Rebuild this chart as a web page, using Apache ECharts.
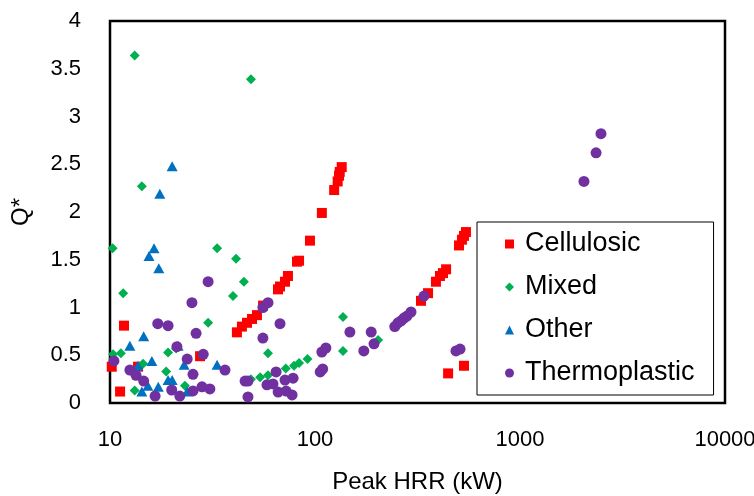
<!DOCTYPE html>
<html>
<head>
<meta charset="utf-8">
<script src="https://cdn.jsdelivr.net/npm/echarts@6/dist/echarts.min.js"></script>
<style>html,body{margin:0;padding:0;background:#fff;}#c{width:754px;height:496px;}</style>
</head>
<body>
<div id="c"></div>
<script>
const seriesNames = ['Cellulosic', 'Mixed', 'Other', 'Thermoplastic'];
const xTicks = [10, 100, 1000, 10000];
const yTicks = [0, 0.5, 1, 1.5, 2, 2.5, 3, 3.5, 4];

const cellulosicX = [41.6,44.0,46.6,49.3,52.1,55.8,66.0,67.5,71.4,73.8,81.7,83.6,94.5,108,124,129,131,132,135,
  329,356,389,407,421,436,504,521,533,545, 446,533, 11.7,27.5,10.2,13.7,11.2];
const cellulosicY = [0.74,0.80,0.84,0.88,0.92,1.02,1.19,1.22,1.27,1.33,1.48,1.49,1.70,1.99,2.23,2.32,2.38,2.42,2.47,
  1.07,1.15,1.27,1.33,1.36,1.40,1.65,1.71,1.75,1.79, 0.31,0.39, 0.81,0.49,0.38,0.38,0.12];

const mixedX = [13.2,48.7,14.3,10.3,33.3,41.2,45.0,39.8,11.6,30.1,59,10.35,11.3,19.2,21.0,18.8,14.5,13.2,23.2,48.7,54,59,72,79,83.6,91.9,137,137,203];
const mixedY = [3.64,3.39,2.27,1.62,1.62,1.51,1.27,1.12,1.15,0.84,0.52,0.51,0.52,0.53,0.57,0.33,0.41,0.13,0.18,0.25,0.27,0.29,0.36,0.39,0.42,0.46,0.90,0.545,0.66];

const otherX = [20.1,17.5,16.4,15.5,17.3,14.6,12.5,21.5,16.0,23.0,33.3,19.2,20.1,15.3,17.2,14.3,23.8,13.7];
const otherY = [2.48,2.19,1.62,1.54,1.41,0.70,0.60,0.60,0.44,0.40,0.40,0.24,0.24,0.18,0.17,0.12,0.12,0.39];

const thermoX = [2483,2350,2051,487,510,340,294,281,272,263,254,245,148,188,173,194,108,113,106,109,
  59,55.7,67.5,55.7,36.4,64.6,45.6,47.1,78.2,71.4,58.3,62.4,66.1,72.3,77.3,47.1,30.7,
  25.1,17.1,19.2,26.3,21.2,28.5,23.8,10.45,12.5,13.4,14.6,25.4,20.0,16.6,21.9,25.4,28.1,30.1];
const thermoY = [2.82,2.62,2.32,0.545,0.565,1.12,0.953,0.91,0.89,0.86,0.84,0.80,0.743,0.743,0.545,0.62,0.534,0.576,0.325,0.356,
  1.05,1.0,0.83,0.68,0.345,0.325,0.23,0.23,0.26,0.24,0.19,0.20,0.115,0.125,0.084,0.063,0.147,
  1.05,0.83,0.81,0.73,0.59,0.51,0.46,0.44,0.345,0.29,0.23,0.30,0.136,0.073,0.073,0.126,0.17,1.27];

function pairs(xs, ys) { return xs.map((x, i) => [x, ys[i]]); }

const FONT = 'Liberation Sans';
const chart = echarts.init(document.getElementById('c'), null, {renderer: 'canvas'});
chart.setOption({
  animation: false,
  backgroundColor: '#fff',
  grid: {left: 110, right: 29, top: 21, bottom: 93, containLabel: false, outerBoundsMode: 'none',
    show: true, borderColor: '#000', borderWidth: 2.5, backgroundColor: 'transparent'},
  xAxis: {
    type: 'log', logBase: 10, min: xTicks[0], max: xTicks[xTicks.length - 1],
    name: 'Peak HRR (kW)', nameLocation: 'middle', nameGap: 67,
    nameTextStyle: {fontFamily: FONT, fontSize: 24, color: '#000'},
    axisLine: {show: false}, axisTick: {show: false}, splitLine: {show: false},
    axisLabel: {fontFamily: FONT, fontSize: 22, color: '#000', margin: 26, formatter: v => String(Math.round(v))}
  },
  yAxis: {
    type: 'value', min: yTicks[0], max: yTicks[yTicks.length - 1], interval: 0.5,
    name: 'Q*', nameLocation: 'middle', nameGap: 77, nameRotate: 90,
    nameTextStyle: {fontFamily: FONT, fontSize: 24, color: '#000'},
    axisLine: {show: false}, axisTick: {show: false}, splitLine: {show: false},
    axisLabel: {fontFamily: FONT, fontSize: 22, color: '#000', margin: 29}
  },
  legend: {
    orient: 'vertical', left: 477, top: 222,
    backgroundColor: '#fff', borderColor: '#000', borderWidth: 1,
    padding: [8, 19, 8, 28], itemGap: 15, itemWidth: 9, itemHeight: 9,
    textStyle: {fontFamily: FONT, fontSize: 27, color: '#000', lineHeight: 28, padding: [0, 0, 0, 6]},
    data: seriesNames
  },
  series: [
    {name: seriesNames[0], type: 'scatter', symbol: 'rect', symbolSize: 10, itemStyle: {color: '#FF0000', opacity: 1}, data: pairs(cellulosicX, cellulosicY)},
    {name: seriesNames[1], type: 'scatter', symbol: 'diamond', symbolSize: [10, 10], itemStyle: {color: '#00B050', opacity: 1}, data: pairs(mixedX, mixedY)},
    {name: seriesNames[2], type: 'scatter', symbol: 'triangle', symbolSize: [11, 10], itemStyle: {color: '#0070C0', opacity: 1}, data: pairs(otherX, otherY)},
    {name: seriesNames[3], type: 'scatter', symbol: 'circle', symbolSize: 11, itemStyle: {color: '#7030A0', opacity: 1}, data: pairs(thermoX, thermoY)}
  ]
});
</script>
</body>
</html>
